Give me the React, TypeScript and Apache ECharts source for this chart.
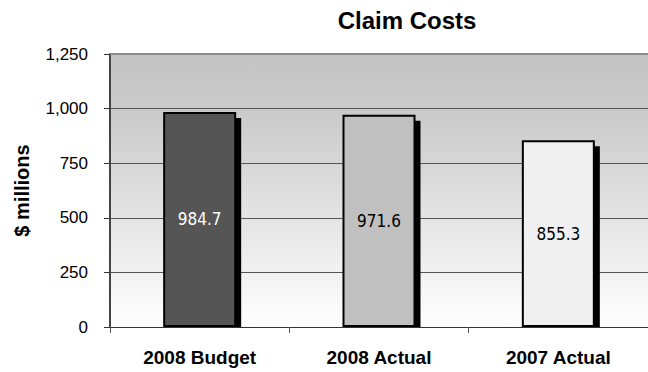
import React, { useEffect, useRef } from "react";
import * as echarts from "echarts";

const categories = ["2008 Budget", "2008 Actual", "2007 Actual"];
const claimCosts = [984.7, 971.6, 855.3];
const barColors = ["#555555", "#c0c0c0", "#f0f0f0"];
const labelColors = ["#ffffff", "#000000", "#000000"];
const yTicks = [0, 250, 500, 750, 1000, 1250];

const BAR_WIDTH = 73;
const SANS = "Liberation Sans, Arial, sans-serif";

export default function App() {
  const ref = useRef<HTMLDivElement>(null);

  useEffect(() => {
    if (!ref.current) return;
    const chart = echarts.init(ref.current, null, { renderer: "svg" });

    const option: any = {
      animation: false,
      backgroundColor: "#ffffff",
      title: {
        text: "Claim Costs",
        left: 402,
        top: 3,
        textAlign: "center",
        textStyle: { fontFamily: SANS, fontSize: 24, fontWeight: "bold", color: "#000" },
      },
      grid: {
        left: 110,
        right: -2,
        top: 54,
        bottom: 45,
        show: true,
        borderWidth: 0,
        backgroundColor: new echarts.graphic.LinearGradient(0, 0, 0, 1, [
          { offset: 0, color: "#c4c4c4" },
          { offset: 0.2, color: "#c9c9c9" },
          { offset: 1, color: "#ffffff" },
        ]),
      },
      xAxis: {
        type: "category",
        data: categories,
        axisLine: { lineStyle: { color: "#333", width: 1 } },
        axisTick: { show: true, length: 6, lineStyle: { color: "#555" } },
        axisLabel: {
          margin: 21,
          fontFamily: SANS,
          fontSize: 19,
          fontWeight: "bold",
          color: "#000",
        },
      },
      yAxis: {
        type: "value",
        min: yTicks[0],
        max: yTicks[yTicks.length - 1],
        interval: 250,
        name: "$ millions",
        nameLocation: "middle",
        nameGap: 78,
        nameRotate: 90,
        nameTextStyle: { fontFamily: SANS, fontSize: 20, fontWeight: "bold", color: "#000" },
        axisLine: { show: true, lineStyle: { color: "#444", width: 2 } },
        axisTick: { show: true, length: 6, lineStyle: { color: "#333" } },
        axisLabel: {
          margin: 22,
          fontFamily: SANS,
          fontSize: 17,
          color: "#000",
          formatter: (v: number) => v.toLocaleString("en-US"),
        },
        splitLine: { show: true, lineStyle: { color: "#555", width: 1 } },
      },
      graphic: [
        {
          // plot area top edge
          type: "line",
          shape: { x1: 110, y1: 54, x2: 648, y2: 54 },
          style: { stroke: "#8c8c8c", lineWidth: 2 },
          z: 5,
        },
      ],
      series: [
        {
          // black drop shadow behind each bar
          type: "custom",
          z: 1,
          silent: true,
          data: claimCosts.map((v, i) => [i, v]),
          renderItem: (params: any, api: any) => {
            const top = api.coord([api.value(0), api.value(1)]);
            const base = api.coord([api.value(0), 0]);
            const x = top[0] - BAR_WIDTH / 2 + 5;
            return {
              type: "rect",
              shape: { x, y: top[1] + 6, width: BAR_WIDTH, height: base[1] - top[1] - 6 },
              style: { fill: "#000000" },
            };
          },
        },
        {
          type: "bar",
          z: 3,
          barWidth: BAR_WIDTH,
          data: claimCosts.map((v, i) => ({
            value: v,
            itemStyle: { color: barColors[i], borderColor: "#000", borderWidth: 2 },
            label: { color: labelColors[i] },
          })),
          label: {
            show: true,
            position: "inside",
            fontFamily: "DejaVu Sans Condensed, sans-serif",
            fontSize: 17,
            formatter: (p: any) => p.value.toFixed(1),
          },
        },
      ],
    };

    chart.setOption(option);
    return () => chart.dispose();
  }, []);

  return <div ref={ref} style={{ width: 648, height: 372, position: "absolute", left: 0, top: 0 }} />;
}
